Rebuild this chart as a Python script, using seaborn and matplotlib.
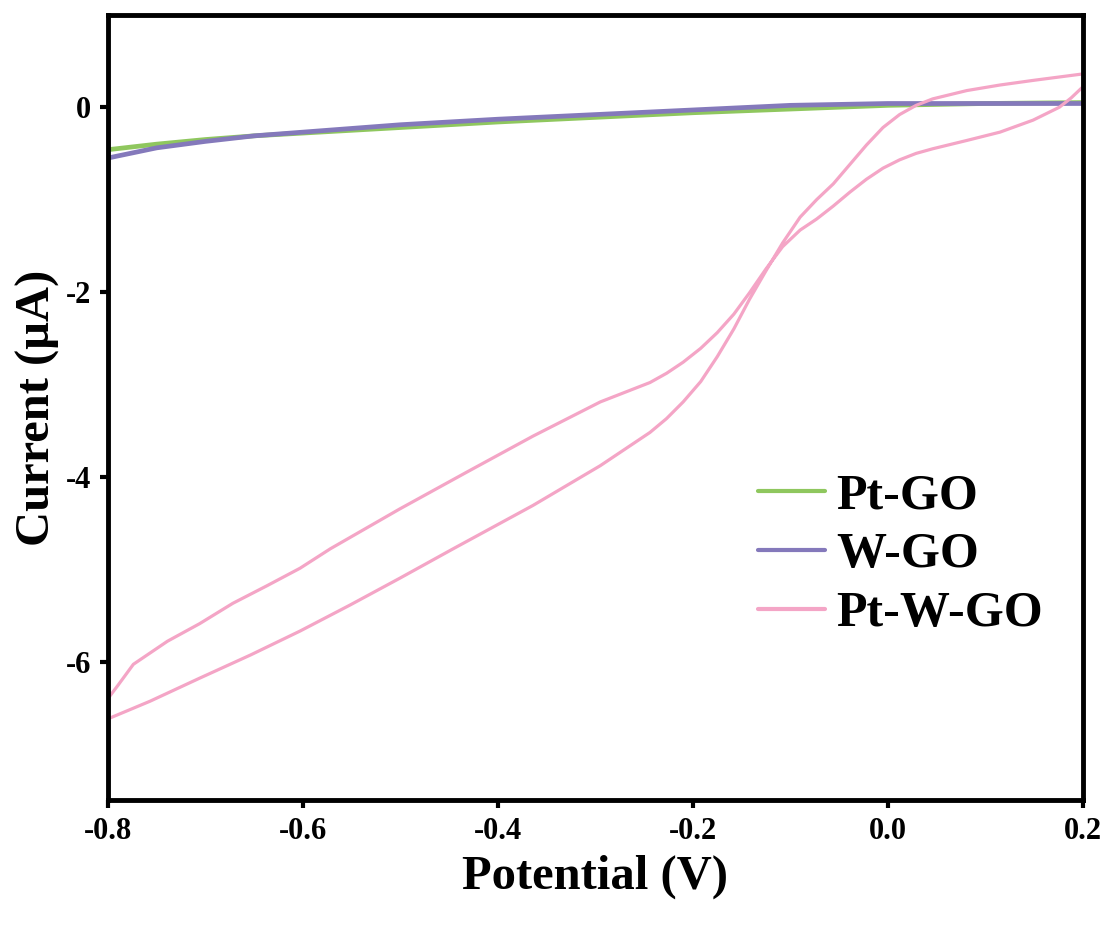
import matplotlib
matplotlib.use("Agg")
import matplotlib.pyplot as plt
import seaborn as sns
import pandas as pd

# ---- data ----
pt_go_x = [-0.8, -0.75, -0.7, -0.65, -0.6, -0.5, -0.4, -0.3, -0.2, -0.1, 0.0, 0.1, 0.2]
pt_go_y = [-0.46, -0.40, -0.35, -0.31, -0.28, -0.22, -0.16, -0.11, -0.06, -0.02, 0.02, 0.04, 0.05]

w_go_x = [-0.8, -0.75, -0.7, -0.65, -0.6, -0.5, -0.4, -0.3, -0.2, -0.1, 0.0, 0.1, 0.2]
w_go_y = [-0.55, -0.44, -0.37, -0.31, -0.27, -0.19, -0.13, -0.08, -0.03, 0.02, 0.04, 0.04, 0.04]

# Pt-W-GO closed CV loop, in scan order
ptw_go_x = [-0.8, -0.757, -0.706, -0.654, -0.603, -0.552, -0.501, -0.446, -0.364, -0.295,
            -0.244, -0.227, -0.210, -0.192, -0.175, -0.158, -0.142, -0.125, -0.108, -0.09,
            -0.073, -0.056, -0.039, -0.022, -0.005, 0.012, 0.029, 0.046,
            0.081, 0.115, 0.149, 0.2,
            0.2, 0.188, 0.176, 0.149, 0.115, 0.081, 0.046, 0.029, 0.012, -0.005, -0.022,
            -0.039, -0.056, -0.073, -0.09,
            -0.108, -0.125, -0.142, -0.158, -0.175, -0.192, -0.210, -0.227, -0.244,
            -0.295, -0.364, -0.432, -0.501, -0.572,
            -0.603, -0.637, -0.672, -0.706, -0.739, -0.774, -0.79, -0.8, -0.8]
ptw_go_y = [-6.62, -6.43, -6.18, -5.93, -5.67, -5.39, -5.10, -4.78, -4.31, -3.88,
            -3.52, -3.37, -3.19, -2.97, -2.70, -2.40, -2.08, -1.77, -1.47, -1.19,
            -1.00, -0.83, -0.62, -0.41, -0.22, -0.08, 0.02, 0.09,
            0.18, 0.24, 0.29, 0.36,
            0.22, 0.10, 0.00, -0.14, -0.27, -0.36, -0.45, -0.50, -0.57, -0.66, -0.78,
            -0.92, -1.07, -1.21, -1.33,
            -1.51, -1.75, -2.01, -2.24, -2.44, -2.61, -2.76, -2.88, -2.98,
            -3.19, -3.56, -3.95, -4.35, -4.78,
            -4.99, -5.18, -5.37, -5.59, -5.78, -6.03, -6.26, -6.40, -6.62]

labels = ["Pt-GO", "W-GO", "Pt-W-GO"]
colors = ["#8fc75e", "#8479bb", "#f4a5c6"]
xticks = [-0.8, -0.6, -0.4, -0.2, 0.0, 0.2]
xticklabels = ["-0.8", "-0.6", "-0.4", "-0.2", "0.0", "0.2"]
yticks = [0, -2, -4, -6]
yticklabels = ["0", "-2", "-4", "-6"]

sns.set_theme(style="ticks")
plt.rcParams["font.family"] = ["Liberation Serif", "DejaVu Serif"]
plt.rcParams["font.weight"] = "bold"
plt.rcParams["text.color"] = "black"
plt.rcParams["axes.labelcolor"] = "black"
plt.rcParams["xtick.color"] = "black"
plt.rcParams["ytick.color"] = "black"

fig = plt.figure(figsize=(11.09, 9.25), dpi=100)
ax = fig.add_axes([0.0974, 0.135, 0.879, 0.849])

frames = []
for lab, xs, ys in zip(labels, [pt_go_x, w_go_x, ptw_go_x], [pt_go_y, w_go_y, ptw_go_y]):
    frames.append(pd.DataFrame({"x": xs, "y": ys, "sample": lab}))
df = pd.concat(frames, ignore_index=True)

widths = {"Pt-GO": 3.4, "W-GO": 3.4, "Pt-W-GO": 2.3}
for lab, col in zip(labels, colors):
    sub = df[df["sample"] == lab]
    sns.lineplot(data=sub, x="x", y="y", sort=False, estimator=None, color=col,
                 linewidth=widths[lab], label=lab, ax=ax)

ax.set_xlim(-0.8, 0.2)
ax.set_ylim(-7.5, 1.0)
ax.set_xticks(xticks)
ax.set_xticklabels(xticklabels)
ax.set_yticks(yticks)
ax.set_yticklabels(yticklabels)
for s in ax.spines.values():
    s.set_linewidth(3.5)
    s.set_color("black")
ax.tick_params(axis="both", direction="out", length=6, width=3, labelsize=22,
               pad=6, colors="black")
for t in ax.get_xticklabels() + ax.get_yticklabels():
    t.set_fontweight("bold")

ax.set_xlabel("Potential (V)", fontsize=35, fontweight="bold", labelpad=6, color="black")
ax.set_ylabel("Current (μA)", fontsize=35, fontweight="bold", labelpad=4, color="black")

leg = ax.legend(loc="upper left", bbox_to_anchor=(0.646, 0.442), frameon=False,
                prop={"size": 36, "weight": "bold"}, handlelength=1.35,
                handletextpad=0.22, labelspacing=0.26, borderaxespad=0)
for lh in leg.get_lines():
    lh.set_linewidth(3)
for t in leg.get_texts():
    t.set_color("black")

fig.savefig("out.png", dpi=100)
